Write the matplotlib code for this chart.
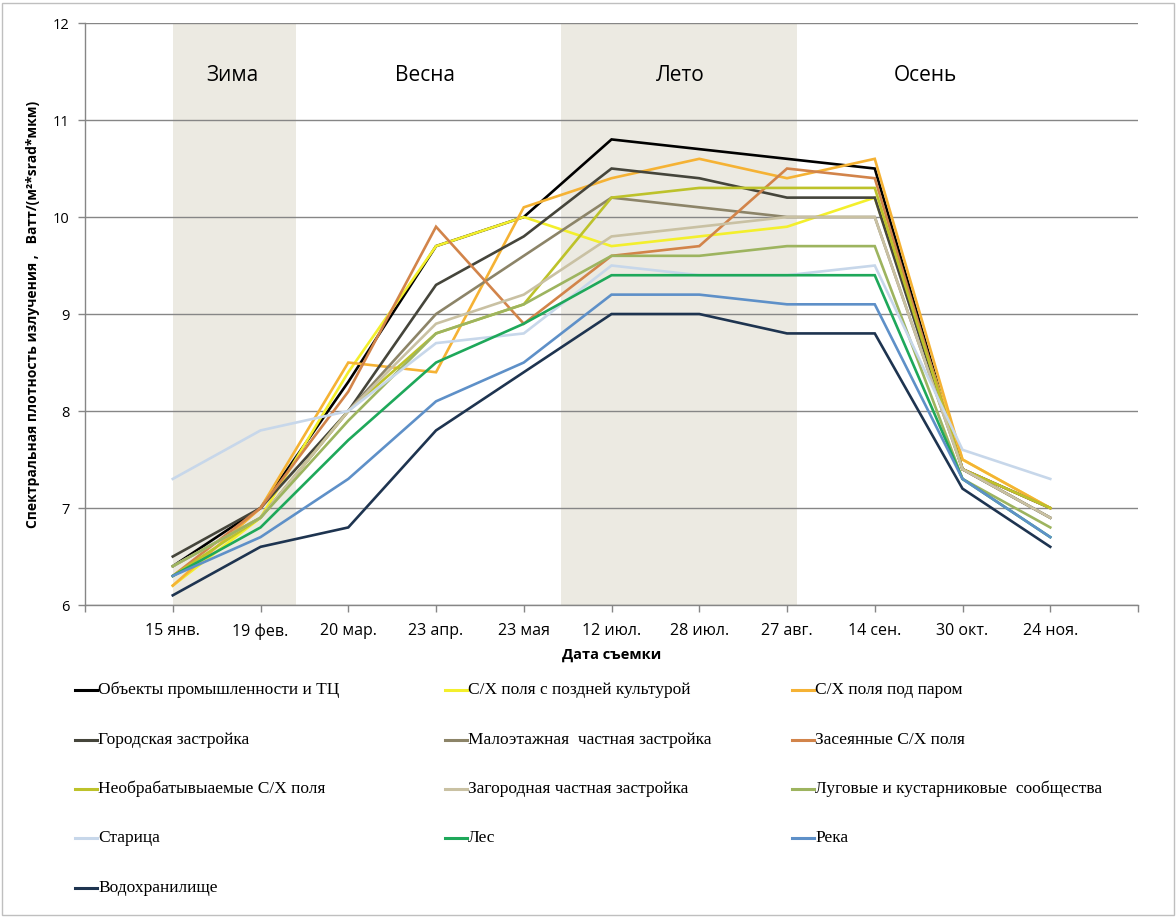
import matplotlib
matplotlib.use("Agg")
import matplotlib.pyplot as plt
from matplotlib.lines import Line2D
from matplotlib.patches import Rectangle

# даты съемки
dates = ["15 янв.", "19 фев.", "20 мар.", "23 апр.", "23 мая", "12 июл.",
         "28 июл.", "27 авг.", "14 сен.", "30 окт.", "24 ноя."]

# значения по классам
industry = [6.4, 7.0, 8.3, 9.7, 10.0, 10.8, 10.7, 10.6, 10.5, 7.4, 7.0]
late_crop = [6.2, 6.9, 8.4, 9.7, 10.0, 9.7, 9.8, 9.9, 10.2, 7.5, 7.0]
fallow = [6.2, 7.0, 8.5, 8.4, 10.1, 10.4, 10.6, 10.4, 10.6, 7.5, 7.0]
urban = [6.5, 7.0, 8.0, 9.3, 9.8, 10.5, 10.4, 10.2, 10.2, 7.4, 6.9]
lowrise = [6.4, 6.9, 8.0, 9.0, 9.6, 10.2, 10.1, 10.0, 10.0, 7.4, 6.9]
sown = [6.3, 7.0, 8.2, 9.9, 8.9, 9.6, 9.7, 10.5, 10.4, 7.4, 7.0]
uncult = [6.3, 6.9, 8.0, 8.8, 9.1, 10.2, 10.3, 10.3, 10.3, 7.4, 7.0]
suburban = [6.4, 6.9, 8.0, 8.9, 9.2, 9.8, 9.9, 10.0, 10.0, 7.4, 6.9]
meadow = [6.4, 6.9, 7.9, 8.8, 9.1, 9.6, 9.6, 9.7, 9.7, 7.3, 6.8]
oxbow = [7.3, 7.8, 8.0, 8.7, 8.8, 9.5, 9.4, 9.4, 9.5, 7.6, 7.3]
forest = [6.3, 6.8, 7.7, 8.5, 8.9, 9.4, 9.4, 9.4, 9.4, 7.3, 6.7]
river = [6.3, 6.7, 7.3, 8.1, 8.5, 9.2, 9.2, 9.1, 9.1, 7.3, 6.7]
reservoir = [6.1, 6.6, 6.8, 7.8, 8.4, 9.0, 9.0, 8.8, 8.8, 7.2, 6.6]

names = ["Объекты промышленности и ТЦ", "С/Х поля с поздней культурой",
         "С/Х поля под паром", "Городская застройка",
         "Малоэтажная  частная застройка", "Засеянные С/Х поля",
         "Необрабатывыаемые С/Х поля", "Загородная частная застройка",
         "Луговые и кустарниковые  сообщества", "Старица", "Лес", "Река",
         "Водохранилище"]
series = [industry, late_crop, fallow, urban, lowrise, sown, uncult,
          suburban, meadow, oxbow, forest, river, reservoir]
colors = ["#000000", "#F3EF2C", "#F5B234", "#45453B", "#8C8468", "#D2844A",
          "#BDC22A", "#C9C1A3", "#9DB45F", "#C7D7EA", "#1EA85A", "#5E90C8",
          "#1E3450"]

seasons = [("Зима", 1.0, 2.4), ("Весна", 2.4, 5.42),
           ("Лето", 5.42, 8.11), ("Осень", 8.11, 11.0)]
shaded = ["Зима", "Лето"]

fig = plt.figure(figsize=(11.76, 9.17), dpi=100)
ax = fig.add_axes([0.0723, 0.3402, 0.8954, 0.6347])

x = list(range(1, len(dates) + 1))
for vals, c in zip(series, colors):
    ax.plot(x, vals, color=c, lw=1.9, solid_joinstyle="miter", zorder=3)

for name, a, b in seasons:
    if name in shaded:
        ax.axvspan(a, b, color="#ECEAE2", lw=0, zorder=0)
label_x = {"Зима": 1.68, "Весна": 3.87, "Лето": 6.78, "Осень": 9.58}
for name, a, b in seasons:
    ax.text(label_x[name], 11.46, name, ha="center", va="center",
            fontsize=15, family="Open Sans", zorder=4)

ax.set_xlim(0, 12)
ax.set_ylim(6, 12)
ax.set_xticks(range(13))
ax.set_xticklabels([""] + dates + [""], family="Open Sans", fontsize=11.5)
ax.set_yticks(range(6, 13))
ax.set_yticklabels([str(v) for v in range(6, 13)], family="Open Sans",
                   fontsize=10.5)
ax.tick_params(axis="both", color="#868686", length=5, width=1)
ax.tick_params(axis="x", pad=8)
ax.tick_params(axis="y", pad=6)
ax.grid(axis="y", color="#868686", lw=1)
ax.set_axisbelow(True)
for s in ["top", "right"]:
    ax.spines[s].set_visible(False)
for s in ["left", "bottom"]:
    ax.spines[s].set_color("#868686")
    ax.spines[s].set_linewidth(1)

fig.text(0.028, 0.657, "Спектральная плотность излучения ,   Ватт/(м²*srad*мкм)",
         rotation=90, ha="center", va="center", fontsize=10,
         fontweight="bold", family="Open Sans")
fig.text(0.520, 0.2857, "Дата съемки", ha="center", va="center",
         fontsize=10.5, fontweight="bold", family="Open Sans")

# легенда по строкам, 3 колонки
col_x = [75, 445, 792]
row_y = [690, 740, 789, 838, 888]
W, H = 1176, 917
for i, (name, c) in enumerate(zip(names, colors)):
    r, k = divmod(i, 3)
    xx = col_x[k] / W
    yy = 1 - row_y[r] / H
    fig.add_artist(Line2D([xx, xx + 22 / W], [yy, yy], color=c, lw=2.2))
    fig.text(xx + 23 / W, yy, name, ha="left", va="center", fontsize=12.5,
             family="Liberation Serif")

fig.add_artist(Rectangle((0.002, 0.002), 0.996, 0.995, fill=False,
                         ec="#BFBFBF", lw=1, transform=fig.transFigure))

fig.savefig("out.png", dpi=100, facecolor="white")
